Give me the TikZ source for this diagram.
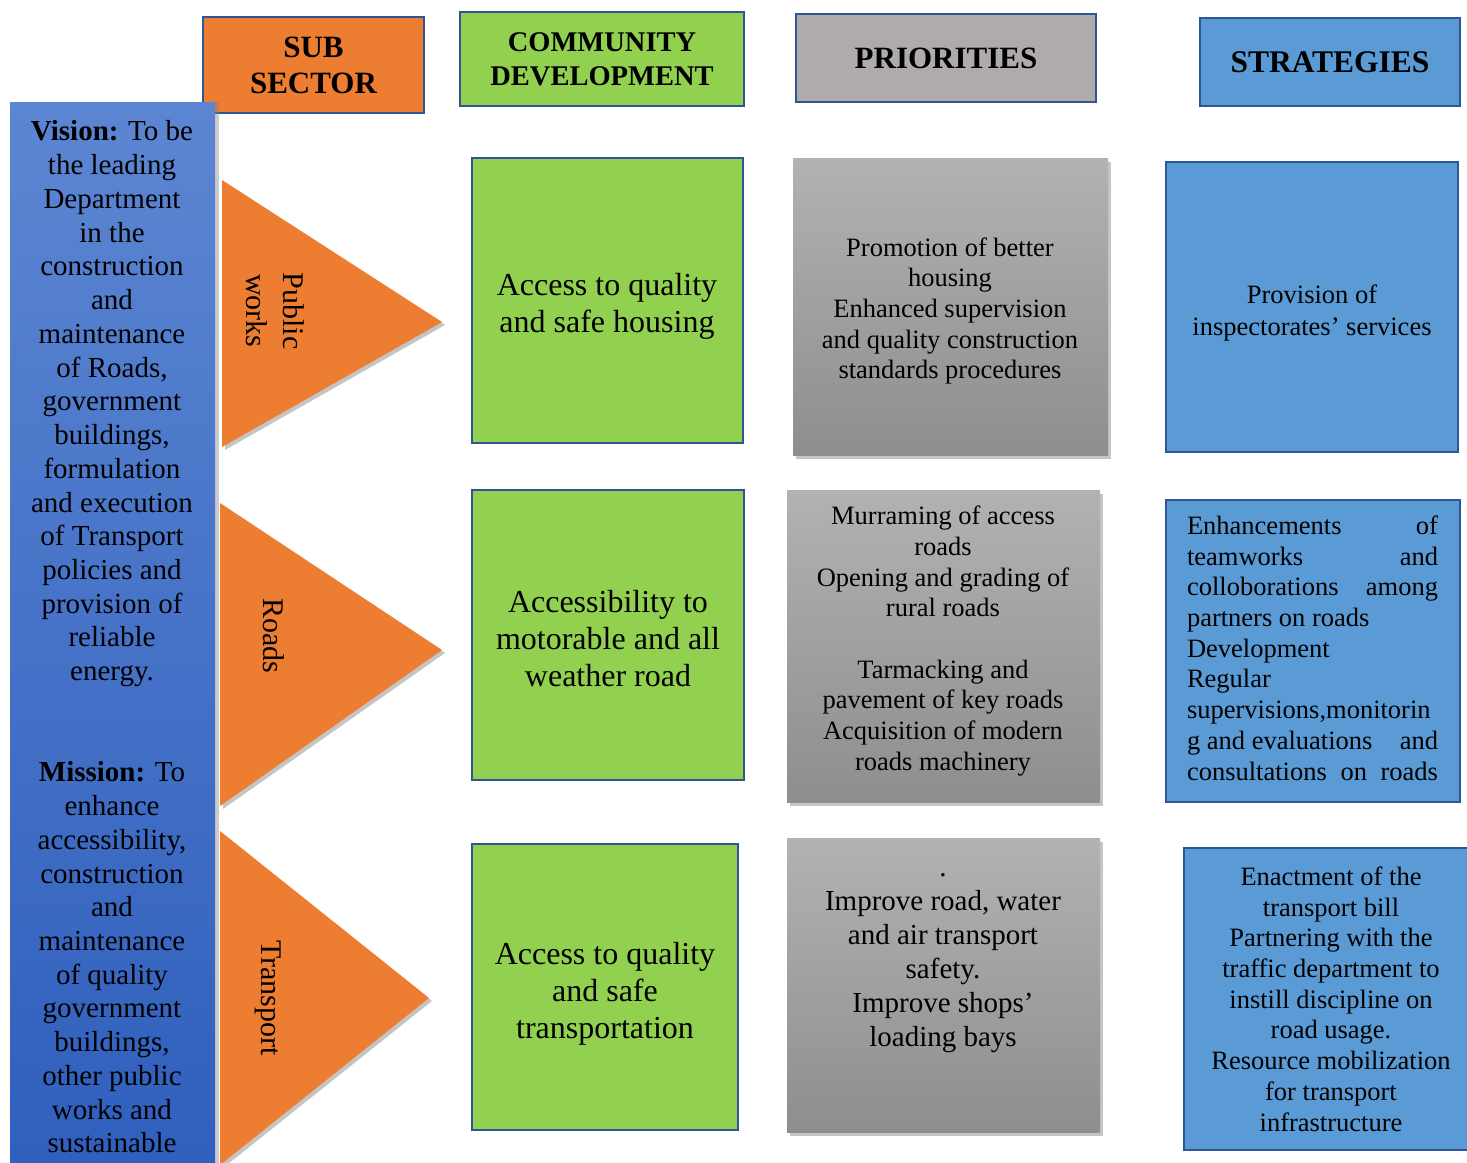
\documentclass[tikz,border=0pt]{standalone}
\usepackage{fontspec}
\setmainfont{Liberation Serif}
\usetikzlibrary{shadows}
\definecolor{orangeC}{HTML}{ED7D31}
\definecolor{greenC}{HTML}{92D050}
\definecolor{greyH}{HTML}{AFABAB}
\definecolor{blueC}{HTML}{5B9BD5}
\definecolor{bordC}{HTML}{2F5597}
\definecolor{visTop}{HTML}{5C86D2}
\definecolor{visBot}{HTML}{2F5FBD}
\definecolor{gTop}{HTML}{B2B2B2}
\definecolor{gBot}{HTML}{8E8E8E}
\tikzset{
  hdr/.style={draw=bordC, line width=2pt, inner sep=0pt, align=center, font=\bfseries},
  greenbox/.style={draw=bordC, line width=2pt, fill=greenC, inner sep=0pt},
  bluebox/.style={draw=bordC, line width=2pt, fill=blueC, inner sep=0pt},
  greybox/.style={top color=gTop, bottom color=gBot, inner sep=0pt,
     drop shadow={opacity=0.45, shadow xshift=3pt, shadow yshift=-4pt}},
  greentext/.style={align=center, inner sep=0pt, font=\fontsize{32}{37}\selectfont},
  bodytext/.style={align=center, inner sep=0pt, font=\fontsize{26.5}{30.7}\selectfont},
  tri/.style={fill=orangeC, drop shadow={opacity=0.45, shadow xshift=3pt, shadow yshift=-3pt}},
  trilabel/.style={rotate=-90, inner sep=0pt, align=center, font=\fontsize{30}{37}\selectfont}
}
\begin{document}
\begin{tikzpicture}[x=1pt,y=-1pt]
\useasboundingbox (0,0) rectangle (1467,1162);
\fill[white] (0,0) rectangle (1467,1162);

% headers
\node[hdr, fill=orangeC, minimum width=221pt, minimum height=96pt, font=\bfseries\fontsize{31}{36}\selectfont] (hsub) at (313.5,65) {SUB\\SECTOR};
\node[hdr, fill=greenC, minimum width=284pt, minimum height=94pt, font=\bfseries\fontsize{28.5}{34}\selectfont] (hcom) at (602,59) {COMMUNITY\\DEVELOPMENT};
\node[hdr, fill=greyH, minimum width=300pt, minimum height=88pt, font=\bfseries\fontsize{31}{36}\selectfont] (hpri) at (946,58) {PRIORITIES};
\node[hdr, fill=blueC, minimum width=260pt, minimum height=88pt, font=\bfseries\fontsize{31.5}{36}\selectfont] (hstr) at (1330,62) {STRATEGIES};

% vision / mission column
\node[top color=visTop, bottom color=visBot, minimum width=205pt, minimum height=1080pt, inner sep=0pt,
      drop shadow={opacity=0.4, shadow xshift=4pt, shadow yshift=0pt}] (vcol) at (112.5,642) {};
\node[align=center, inner sep=0pt, font=\fontsize{29}{33.73}\selectfont] (vtext) at (112,637)
 {\textbf{Vision:} To be\\the leading\\Department\\in the\\construction\\and\\maintenance\\of Roads,\\government\\buildings,\\formulation\\and execution\\of Transport\\policies and\\provision of\\reliable\\energy.\\[67.46pt]\textbf{Mission:} To\\enhance\\accessibility,\\construction\\and\\maintenance\\of quality\\government\\buildings,\\other public\\works and\\sustainable};

% triangles
\fill[tri] (222,180) -- (222,447) -- (442,322) -- cycle;
\fill[tri] (220,503) -- (220,806) -- (442,650) -- cycle;
\fill[tri] (220,831) -- (220,1165) -- (429,998) -- cycle;
\node[trilabel] (lpub) at (275,311) {Public\\works};
\node[trilabel] (lroad) at (274,636) {Roads};
\node[trilabel] (ltra) at (268,998) {Transport};

% community development
\node[greenbox, minimum width=271pt, minimum height=285pt] (g1) at (607.5,300.5) {};
\node[greentext] (g1t) at (607,306) {Access to quality\\and safe housing};
\node[greenbox, minimum width=272pt, minimum height=290pt] (g2) at (608,635) {};
\node[greentext] (g2t) at (608,638.5) {Accessibility to\\motorable and all\\weather road};
\node[greenbox, minimum width=266pt, minimum height=286pt] (g3) at (605,987) {};
\node[greentext] (g3t) at (605,994) {Access to quality\\and safe\\transportation};

% priorities
\node[greybox, minimum width=315pt, minimum height=297pt] (p1) at (950.5,306.5) {};
\node[bodytext] (p1t) at (950,311) {Promotion of better\\housing\\Enhanced supervision\\and quality construction\\standards procedures};
\node[greybox, minimum width=313pt, minimum height=312pt] (p2) at (943.5,646) {};
\node[bodytext] (p2t) at (943,641) {Murraming of access\\roads\\Opening and grading of\\rural roads\\[30.7pt]Tarmacking and\\pavement of key roads\\Acquisition of modern\\roads machinery};
\node[greybox, minimum width=313pt, minimum height=294pt] (p3) at (943.5,985) {};
\node[align=center, inner sep=0pt, font=\fontsize{29}{34}\selectfont] (p3t) at (943,963) {.\\Improve road, water\\and air transport\\safety.\\Improve shops’\\loading bays};

% strategies
\node[bluebox, minimum width=292pt, minimum height=290pt] (s1) at (1312,307) {};
\node[bodytext, font=\fontsize{26.5}{32}\selectfont] (s1t) at (1312,313) {Provision of\\inspectorates’ services};
\node[bluebox, minimum width=294pt, minimum height=302pt] (s2) at (1313,651) {};
\node[bodytext, align=left] (s2t) at (1312.5,648)
 {\hbox to 251pt{Enhancements\hfill of}\\
  \hbox to 251pt{teamworks\hfill and}\\
  \hbox to 251pt{colloborations\hfill among}\\
  partners on roads\\
  Development\\
  Regular\\
  supervisions,monitorin\\
  \hbox to 251pt{g and evaluations\hfill and}\\
  \hbox to 251pt{consultations\hfill on\hfill roads}};
\node[bluebox, minimum width=294pt, minimum height=302pt] (s3) at (1331,999) {};
\node[bodytext] (s3t) at (1331,999) {Enactment of the\\transport bill\\Partnering with the\\traffic department to\\instill discipline on\\road usage.\\Resource mobilization\\for transport\\infrastructure};
\end{tikzpicture}
\end{document}
